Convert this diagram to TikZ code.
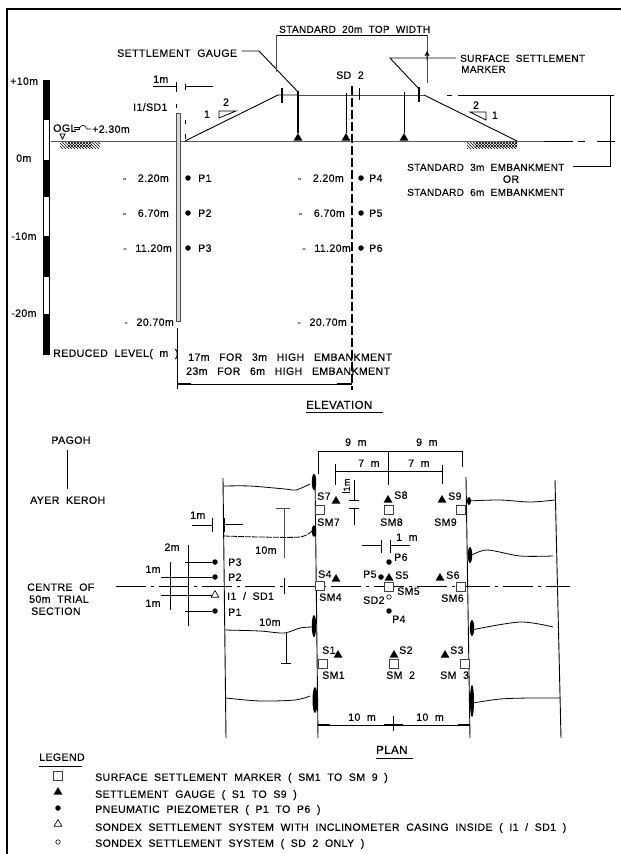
\documentclass[tikz,border=0pt]{standalone}
\usepackage{fontspec}
\setmainfont{Liberation Sans}[LetterSpace=3.5,WordSpace=2,FakeBold=0.25]
\usetikzlibrary{shapes.geometric,patterns}
\begin{document}
\begin{tikzpicture}[x=1pt,y=-1pt,
lab/.style={inner sep=0pt,anchor=west,font=\fontsize{10.6}{11}\selectfont,text height=7.6pt,text depth=0pt},
mid/.style={lab,anchor=center},
tight/.style={lab,font=\fontsize{10}{11}\selectfont},
depth/.style={lab,anchor=east},
gauge/.style={regular polygon,regular polygon sides=3,fill=black,inner sep=0pt,minimum size=10pt},
marker/.style={rectangle,draw=black!75,fill=white,inner sep=0pt,minimum size=8.5pt,line width=.7pt},
piezo/.style={circle,fill=black,inner sep=0pt,minimum size=5.5pt},
sondex/.style={circle,draw=black,inner sep=0pt,minimum size=4.5pt,line width=.6pt},
casing/.style={regular polygon,regular polygon sides=3,draw=black,inner sep=0pt,minimum size=9pt,line width=.6pt},
thin line/.style={line width=.5pt,black!70},
dim/.style={line width=.9pt},
heavy/.style={line width=1.3pt},
toe/.style={line width=.8pt}]
\useasboundingbox (0,0) rectangle (621,854);
\draw[line width=1.4pt] (7,854) -- (7,9) -- (621,9);
\fill (43,80) rectangle (49,120);
\fill (43,160) rectangle (49,197);
\fill (43,236) rectangle (49,277);
\fill (43,314) rectangle (49,354);
\draw[line width=.6pt] (43,80) rectangle (49,354);
\node[lab] (lvlten) at (10,81) {+10m};
\node[lab] (lvlzero) at (16,158) {0m};
\node[lab] (lvlminten) at (11,236) {-10m};
\node[lab] (lvlmintwenty) at (11,313) {-20m};
\node[lab] (reduced) at (53,353) {REDUCED LEVEL( m )};
\coordinate (toeL) at (185,141);
\coordinate (crestL) at (278,95);
\coordinate (crestR) at (424,95);
\coordinate (toeR) at (517,141);
\draw[line width=1pt] (51,141) -- (toeR) -- (573,141);
\draw[line width=1pt] (578,141) -- (585,141) (597,141) -- (615,141);
\draw[line width=.9pt] (toeL) -- (crestL) -- (298,95);
\draw[thin line] (298,95) -- (crestR);
\draw[line width=.9pt] (crestR) -- (toeR);
\draw[line width=.9pt] (447,95) -- (452,95) (458,95) -- (610,95);
\fill[pattern=north west lines] (60,142) rectangle (100,148);
\fill[pattern=north east lines] (68,142) rectangle (92,147);
\fill[pattern=north west lines] (467,142) rectangle (517,148);
\fill[pattern=north east lines] (475,142) rectangle (517,147);
\node[lab] (ogl) at (53,128) {OGL};
\draw[line width=.6pt] (74,127) -- (80,127) (74,129) -- (80,129);
\draw[line width=.6pt] (79,129) .. controls (81,124) and (85,124) .. (87,129) -- (91,129);
\node[lab] (oglval) at (92,129) {+2.30m};
\draw[line width=.7pt] (60,134) -- (65,134) -- (62.5,139) -- cycle;
\node[gauge] (gaugeA) at (298,138) {};
\node[gauge] (gaugeB) at (346,138) {};
\node[gauge] (gaugeC) at (404,138) {};
\draw[heavy] (298,91) -- (gaugeA);
\draw[line width=.9pt] (gaugeB) -- (346,93);
\draw[line width=.9pt] (gaugeC) -- (404,92);
\draw[heavy] (282,88) -- (282,103);
\draw[line width=.8pt] (359,88) -- (359,100);
\draw[heavy] (419,87) -- (419,102);
\node[lab] (settle) at (117,53) {SETTLEMENT GAUGE};
\draw[line width=.9pt] (settle.east) ++(5,-2) -- (259,51) -- (298,92);
\node[tight] (surface) at (460,58) {SURFACE SETTLEMENT};
\node[tight] (markerword) at (461,69) {MARKER};
\draw[line width=.9pt] (surface.west) ++(-4,0) -- (390,58) -- (420,90);
\node[tight] (top) at (279,29) {STANDARD 20m TOP WIDTH};
\draw[dim] (276,35) -- (427,35);
\draw[thin line] (276,35) -- (276,72);
\draw[thin line] (427,35) -- (427,83);
\draw[line width=.9pt] (427,52) -- (427,60) (425,56) -- (427,52) -- (429,56);
\node[mid] (sdtwo) at (350,75) {SD 2};
\draw[heavy,dash pattern=on 9pt off 3pt] (352,86) -- (352,390);
\node[lab] (ione) at (133,107) {I1/SD1};
\node[lab] (onem) at (153,79) {1m};
\draw[dim] (153,86) -- (176,86) (185,86) -- (213,86);
\draw[dim] (176,82) -- (176,92) (185,84) -- (185,90);
\draw[dim] (176,104) -- (176,108) (185,120) -- (185,124) (185,134) -- (185,139);
\draw[line width=.8pt,draw=black!70,fill=black!15] (176,113) rectangle (180,321);
\node[mid] (slopeone) at (207,114) {1};
\node[mid] (slopetwo) at (226,102) {2};
\draw[line width=.8pt] (219,118) -- (219,111) -- (236,111) -- cycle;
\node[mid] (slopethree) at (476,105) {2};
\node[mid] (slopefour) at (495,115) {1};
\draw[line width=.8pt] (470,112) -- (486,112) -- (486,120) -- cycle;
\draw[line width=.9pt] (610,95) -- (610,166) -- (573,166);
\draw[dim] (606,95) -- (614,95) (606,141) -- (614,141);
\node[tight] (stdthree) at (407,167) {STANDARD 3m EMBANKMENT};
\node[mid] (stdor) at (511,179) {OR};
\node[tight] (stdsix) at (407,192) {STANDARD 6m EMBANKMENT};
\node[depth] (depA) at (169,178) {-\hspace{5pt} 2.20m};
\node[depth] (depB) at (169,213) {-\hspace{5pt} 6.70m};
\node[depth] (depC) at (172,248) {-\hspace{2pt} 11.20m};
\node[depth] (depD) at (174,322) {-\hspace{2pt} 20.70m};
\node[depth] (depE) at (344,178) {-\hspace{5pt} 2.20m};
\node[depth] (depF) at (345,213) {-\hspace{5pt} 6.70m};
\node[depth] (depG) at (351,248) {-\hspace{2pt} 11.20m};
\node[depth] (depH) at (347,322) {-\hspace{2pt} 20.70m};
\node[piezo] (pa) at (188,178) {};
\node[piezo] (pb) at (188,213) {};
\node[piezo] (pc) at (188,248) {};
\node[piezo] (pd) at (361,178) {};
\node[piezo] (pe) at (361,213) {};
\node[piezo] (pf) at (361,248) {};
\node[lab] (pat) at (198,178) {P1};
\node[lab] (pbt) at (198,213) {P2};
\node[lab] (pct) at (198,248) {P3};
\node[lab] (pdt) at (369,178) {P4};
\node[lab] (pet) at (369,213) {P5};
\node[lab] (pft) at (369,248) {P6};
\draw[dim] (177.5,328) -- (177.5,389);
\draw[line width=1pt] (177.5,384) -- (352,384);
\draw[heavy] (178,384) -- (191,384) (337,384) -- (352,384);
\node[lab] (forthree) at (188,357) {17m\hspace{3pt} FOR\hspace{3pt} 3m\hspace{3pt} HIGH\hspace{3pt} EMBANKMENT};
\node[lab] (forsix) at (186,371) {23m\hspace{3pt} FOR\hspace{3pt} 6m\hspace{3pt} HIGH\hspace{3pt} EMBANKMENT};
\node[lab,font=\fontsize{11.5}{12}\selectfont] (elevation) at (306,405) {ELEVATION};
\draw[line width=1pt] (306,412) -- (383,412);
\node[mid] (pagoh) at (71,440) {PAGOH};
\draw[dim] (67,450) -- (67,489);
\node[lab] (ayer) at (30,500) {AYER KEROH};
\node[lab] (centreA) at (27,587) {CENTRE OF};
\node[lab] (centreB) at (29,599) {50m TRIAL};
\node[lab] (centreC) at (31,611) {SECTION};
\draw[dim] (223,478) -- (226,738);
\draw[dim] (315,475) -- (318,738);
\draw[dim] (466,477) -- (470,738);
\draw[dim] (555,480) -- (561,738);
\draw[line width=.8pt,dash pattern=on 30pt off 5pt on 3pt off 5pt] (116,586) -- (570,586);
\draw[toe] plot[smooth] coordinates {(224,486) (250,486) (285,489) (296,490) (310,484)};
\draw[toe,dash pattern=on 6pt off 1pt] plot[smooth] coordinates {(224,536) (260,537) (300,537) (312,531)};
\draw[toe] plot[smooth] coordinates {(225,630) (260,631) (284,633) (300,628) (312,627)};
\draw[toe] plot[smooth] coordinates {(226,698) (260,701) (295,700) (310,696)};
\draw[toe] plot[smooth] coordinates {(467,501) (500,500) (530,502) (555,500)};
\draw[toe] plot[smooth] coordinates {(470,556) (487,550) (520,556) (553,556)};
\draw[toe] plot[smooth] coordinates {(471,630) (520,622) (553,627)};
\draw[toe] plot[smooth] coordinates {(473,703) (500,699) (530,698) (560,698)};
\fill (314,482) ellipse (2.2 and 8);
\fill (314,531) ellipse (2.2 and 6);
\fill (314,626) ellipse (2.2 and 11);
\fill (315,700) ellipse (2.5 and 13);
\fill (469,501) ellipse (2 and 4);
\fill (470,555) ellipse (2.2 and 8);
\fill (472,628) ellipse (2.2 and 8);
\fill (472,701) ellipse (2 and 16);
\node[lab] (ninea) at (345,442) {9 m};
\node[lab] (nineb) at (416,442) {9 m};
\draw[dim] (318,474) -- (318,451) -- (462,451) -- (462,467);
\draw[dim] (388,451) -- (388,485);
\node[lab] (sevena) at (358,463) {7 m};
\node[lab] (sevenb) at (408,463) {7 m};
\draw[dim] (335,485) -- (335,464) (335,471) -- (442,471) (442,465) -- (442,484);
\node[lab,rotate=90,anchor=center,font=\fontsize{9}{9}\selectfont] (onevert) at (346,485) {1m};
\draw[dim] (342,492) -- (350,492);
\draw[dim] (354,480) -- (354,500) (349,500) -- (359,500);
\draw[dim] (349,508) -- (359,508) (354,508) -- (354,525);
\node[marker] (smseven) at (320,510) {};
\node[marker] (smeight) at (389,510) {};
\node[marker] (smnine) at (461,510) {};
\node[marker] (smfour) at (320,586) {};
\node[marker] (smfive) at (389,587) {};
\node[marker] (smsix) at (461,587) {};
\node[marker] (smone) at (323,664) {};
\node[marker] (smtwo) at (394,664) {};
\node[marker] (smthree) at (465,664) {};
\node[gauge] (sseven) at (336,501) {};
\node[gauge] (seight) at (388,500) {};
\node[gauge] (snine) at (442,500) {};
\node[gauge] (sfour) at (336,579) {};
\node[gauge] (sfive) at (389,578) {};
\node[gauge] (ssix) at (440,578) {};
\node[gauge] (sone) at (338,655) {};
\node[gauge] (stwo) at (394,655) {};
\node[gauge] (sthree) at (445,655) {};
\node[lab] (ssevent) at (317,496) {S7};
\node[lab] (seightt) at (394,495) {S8};
\node[lab] (sninet) at (448,496) {S9};
\node[lab] (sfourt) at (318,574) {S4};
\node[lab] (sfivet) at (395,575) {S5};
\node[lab] (ssixt) at (446,575) {S6};
\node[lab] (sonet) at (322,650) {S1};
\node[lab] (stwot) at (399,650) {S2};
\node[lab] (sthreet) at (450,650) {S3};
\node[lab] (smsevent) at (317,522) {SM7};
\node[lab] (smeightt) at (380,522) {SM8};
\node[lab] (smninet) at (434,522) {SM9};
\node[lab] (smfourt) at (319,597) {SM4};
\node[lab] (smfivet) at (397,591) {SM5};
\node[lab] (smsixt) at (441,598) {SM6};
\node[lab] (smonet) at (322,675) {SM1};
\node[lab] (smtwot) at (386,675) {SM 2};
\node[lab] (smthreet) at (440,675) {SM 3};
\draw[dim] (362,545) -- (381,545) (381,540) -- (381,553);
\draw[dim] (390,540) -- (390,553) (390,545) -- (410,545);
\node[lab] (onemid) at (396,537) {1 m};
\node[piezo] (psix) at (389,562) {};
\node[lab] (psixt) at (394,557) {P6};
\node[piezo] (pfive) at (381,577) {};
\node[lab] (pfivet) at (363,574) {P5};
\node[sondex] (sdtwoplan) at (389,597) {};
\node[lab] (sdtwot) at (363,600) {SD2};
\node[piezo] (pfour) at (389,611) {};
\node[lab] (pfourt) at (392,619) {P4};
\node[lab] (oneleft) at (190,515) {1m};
\draw[dim] (192,525) -- (212,525) (212,518) -- (212,532);
\draw[dim] (224,518) -- (224,532) (224,524) -- (243,524);
\draw[thin line] (276,508) -- (290,508) (284,508) -- (284,558);
\draw[dim] (284,578) -- (284,594);
\node[lab] (tena) at (255,550) {10m};
\node[lab] (tenb) at (259,622) {10m};
\draw[dim] (286,632) -- (286,663) (281,663) -- (291,663);
\node[mid] (twom) at (172,547) {2m};
\node[mid] (onemA) at (153,569) {1m};
\node[mid] (onemB) at (153,603) {1m};
\draw[dim] (188,545) -- (188,626);
\draw[dim] (170,562) -- (170,610);
\node[piezo] (pthreeplan) at (215,562) {};
\node[piezo] (ptwoplan) at (215,577) {};
\node[casing] (ioneplan) at (215,595) {};
\node[piezo] (poneplan) at (215,611) {};
\draw[dim] (185,562) -- (pthreeplan);
\draw[dim] (161,577) -- (ptwoplan);
\draw[dim] (161,595) -- (ioneplan);
\draw[dim] (185,611) -- (poneplan);
\node[lab] (pthreet) at (228,562) {P3};
\node[lab] (ptwot) at (228,577) {P2};
\node[lab] (ionet) at (227,596) {I1 / SD1};
\node[lab] (ponet) at (228,612) {P1};
\draw[line width=1pt] (318,725) -- (470,725);
\draw[heavy] (318,725) -- (330,725) (384,725) -- (403,725) (458,725) -- (470,725);
\draw[dim] (393,716) -- (393,731);
\node[lab] (tenc) at (348,717) {10 m};
\node[lab] (tend) at (416,717) {10 m};
\node[lab,font=\fontsize{11.5}{12}\selectfont] (plan) at (376,750) {PLAN};
\draw[line width=1pt] (376,758) -- (413,758);
\node[lab] (legend) at (39,757) {LEGEND};
\draw[line width=1pt] (39,766) -- (82,766);
\node[marker] (keymarker) at (58,776) {};
\node[gauge] (keygauge) at (58,792) {};
\node[piezo] (keypiezo) at (58,808) {};
\node[casing] (keycasing) at (58,824) {};
\node[sondex] (keysondex) at (58,842) {};
\node[lab] (keya) at (95,777) {SURFACE SETTLEMENT MARKER  ( SM1 TO SM 9 )};
\node[lab] (keyb) at (95,794) {SETTLEMENT GAUGE ( S1 TO S9 )};
\node[lab] (keyc) at (95,809) {PNEUMATIC PIEZOMETER ( P1 TO P6 )};
\node[lab] (keyd) at (95,827) {SONDEX SETTLEMENT SYSTEM WITH INCLINOMETER CASING INSIDE ( I1 / SD1 )};
\node[lab] (keye) at (95,843) {SONDEX SETTLEMENT SYSTEM ( SD 2 ONLY )};
\end{tikzpicture}
\end{document}
